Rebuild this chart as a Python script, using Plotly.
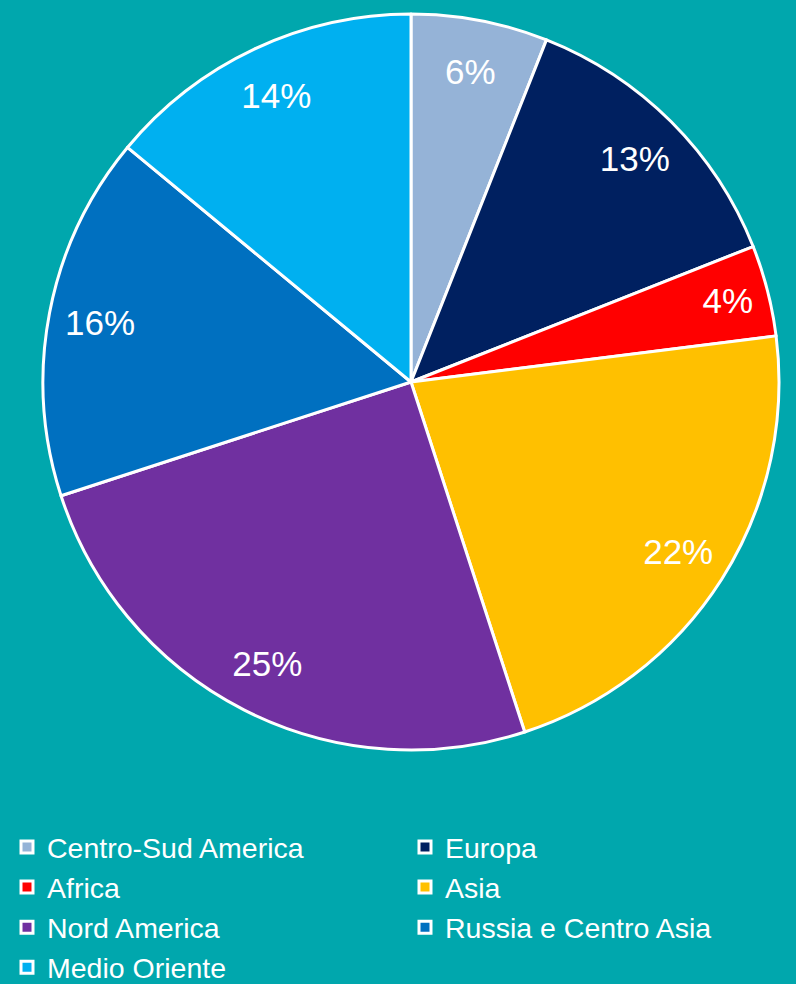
import plotly.graph_objects as go

regions = ["Centro-Sud America", "Europa", "Africa", "Asia", "Nord America",
           "Russia e Centro Asia", "Medio Oriente"]
shares = [6, 13, 4, 22, 25, 16, 14]
colors = ["#95B3D7", "#002060", "#FF0000", "#FFC000", "#7030A0", "#0070C0", "#00B0F0"]

W, H = 796, 984
bg = "#00A7AD"
FONT = "Liberation Sans, Arial, sans-serif"
dom = dict(x=[43 / W, 779 / W], y=[(H - 750) / H, (H - 14) / H])

# full pie: slices, white borders, legend
pie = go.Pie(
    labels=regions,
    values=shares,
    sort=False,
    direction="clockwise",
    rotation=0,
    marker=dict(colors=colors, line=dict(color="white", width=3)),
    textinfo="none",
    hoverinfo="label+percent",
    domain=dom,
    showlegend=True,
)

# transparent ring on top carrying the percentage labels near the rim
ring = go.Pie(
    labels=regions,
    values=shares,
    sort=False,
    direction="clockwise",
    rotation=0,
    hole=0.72,
    marker=dict(colors=["rgba(0,0,0,0)"] * len(regions), line=dict(width=0)),
    texttemplate="%{value}%",
    textposition="inside",
    insidetextorientation="horizontal",
    textfont=dict(family=FONT, size=35, color="white"),
    hoverinfo="skip",
    domain=dom,
    showlegend=False,
)

fig = go.Figure([pie, ring])

fig.update_layout(
    width=W, height=H,
    paper_bgcolor=bg, plot_bgcolor=bg,
    margin=dict(l=0, r=0, t=0, b=0, autoexpand=False),
    uniformtext=dict(minsize=35, mode="show"),
    legend=dict(
        orientation="h",
        x=7 / W, xanchor="left",
        y=(H - 822) / H, yanchor="top",
        font=dict(family=FONT, size=28.5, color="white"),
        entrywidth=353, entrywidthmode="pixels",
        itemwidth=30,
        bgcolor="rgba(0,0,0,0)",
    ),
    showlegend=True,
)

fig.write_html("out.html", config={"displayModeBar": False},
               post_script="document.body.style.margin='0';")
